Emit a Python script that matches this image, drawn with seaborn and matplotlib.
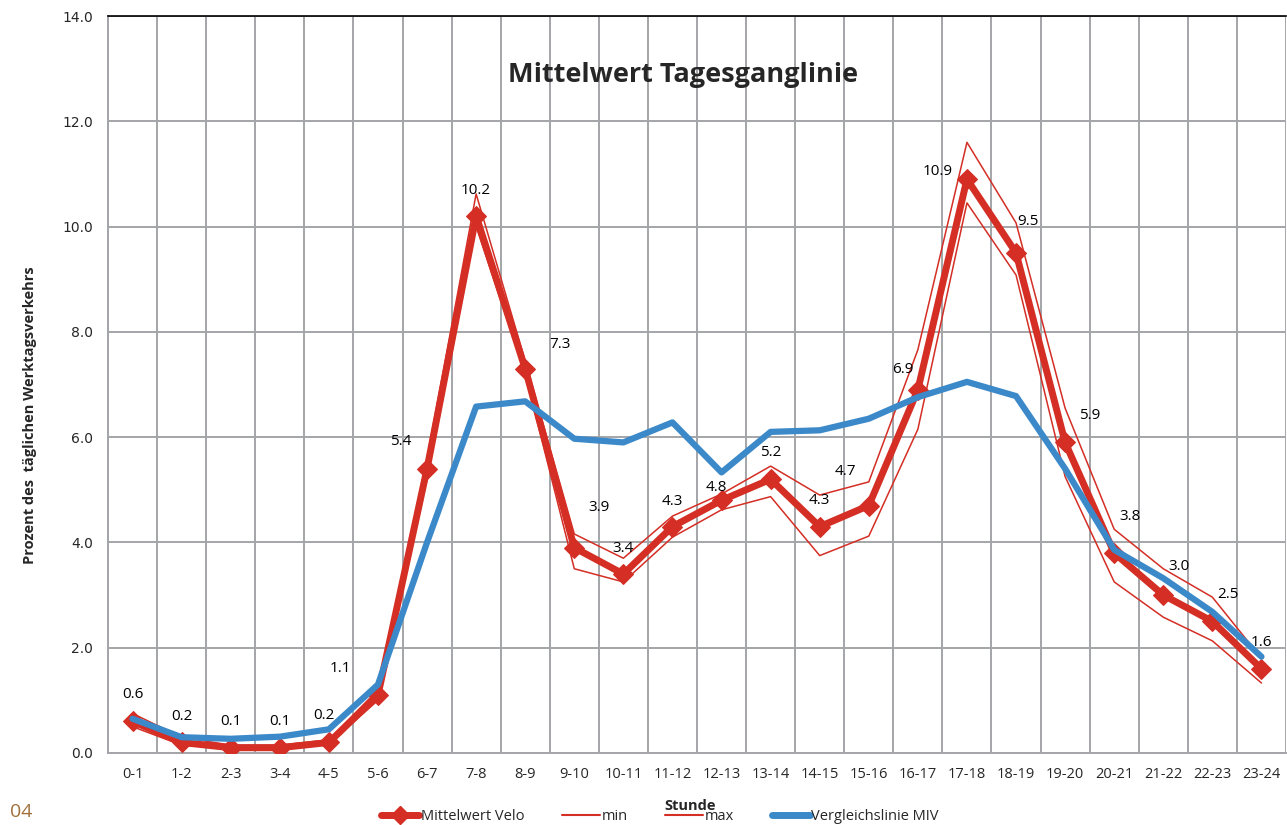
import numpy as np
import pandas as pd
import matplotlib
matplotlib.use("Agg")
import matplotlib.pyplot as plt
import seaborn as sns
from matplotlib.lines import Line2D

hours = ["0-1", "1-2", "2-3", "3-4", "4-5", "5-6", "6-7", "7-8", "8-9", "9-10",
         "10-11", "11-12", "12-13", "13-14", "14-15", "15-16", "16-17", "17-18",
         "18-19", "19-20", "20-21", "21-22", "22-23", "23-24"]
mean_velo = [0.6, 0.2, 0.1, 0.1, 0.2, 1.1, 5.4, 10.2, 7.3, 3.9, 3.4, 4.3, 4.8, 5.2,
             4.3, 4.7, 6.9, 10.9, 9.5, 5.9, 3.8, 3.0, 2.5, 1.6]
min_velo = [0.5, 0.15, 0.08, 0.08, 0.17, 1.0, 5.2, 10.0, 7.2, 3.5, 3.25, 4.1, 4.62, 4.87,
            3.75, 4.12, 6.15, 10.45, 9.08, 5.25, 3.25, 2.58, 2.13, 1.33]
max_velo = [0.75, 0.3, 0.15, 0.15, 0.25, 1.2, 5.6, 10.62, 7.45, 4.16, 3.7, 4.5, 4.92, 5.45,
            4.9, 5.15, 7.66, 11.6, 10.07, 6.55, 4.25, 3.5, 2.96, 1.8]
miv = [0.65, 0.3, 0.27, 0.31, 0.45, 1.3, 4.0, 6.58, 6.68, 5.97, 5.9, 6.28, 5.33, 6.1,
       6.13, 6.35, 6.76, 7.05, 6.78, 5.4, 3.86, 3.32, 2.68, 1.83]

# label offsets in pixels (dx, dy) relative to the data point
label_dx = [0, 0, 0, 0, -5, -38, -26, 0, 35, 25, 0, 0, -5, 0, 0, -23, -15, -29, 12, 25, 16, 16, 16, 0]
label_dy = [27, 26, 26, 26, 27, 27, 27, 26, 24, 40, 26, 25, 13, 27, 26, 34, 20, 8, 31, 27, 36, 29, 27, 26]

RED = "#D42E25"
BLUE = "#3B89C9"
GRID = "#A3A5A8"

sns.set_theme(style="white")
plt.rcParams['font.family'] = ['Open Sans', 'DejaVu Sans']

fig = plt.figure(figsize=(12.87, 8.25), dpi=100)
ax = fig.add_axes([108/1287, 1-753/825, 1178/1287, (753-16)/825])

x = np.arange(len(hours))
df = pd.DataFrame({"x": x, "mean": mean_velo, "min": min_velo, "max": max_velo, "miv": miv})

sns.lineplot(data=df, x="x", y="min", ax=ax, color=RED, lw=1.1, zorder=3)
sns.lineplot(data=df, x="x", y="max", ax=ax, color=RED, lw=1.1, zorder=3)
sns.lineplot(data=df, x="x", y="mean", ax=ax, color=RED, lw=5.0, marker="D",
             markersize=10, markeredgecolor=RED, markerfacecolor=RED, zorder=4)
sns.lineplot(data=df, x="x", y="miv", ax=ax, color=BLUE, lw=4.5, zorder=5)

for i, v in enumerate(mean_velo):
    ax.annotate(f"{v:.1f}", (x[i], v), xytext=(label_dx[i], label_dy[i]),
                textcoords="offset pixels", ha="center", va="center",
                fontsize=11, color="black", zorder=6)

ax.set_xlim(-0.5, len(hours) - 0.5)
ax.set_ylim(0, 14)
ax.set_yticks(np.arange(0, 14.1, 2))
ax.set_yticklabels([f"{t:.1f}" for t in np.arange(0, 14.1, 2)], family="DejaVu Sans", fontsize=10)
ax.set_xticks(x)
ax.set_xticklabels(hours, fontsize=10.5)
ax.set_xticks(np.arange(-0.5, len(hours), 1), minor=True)
ax.tick_params(axis="x", which="major", length=0, pad=10)
ax.tick_params(axis="x", which="minor", length=5, color=GRID, width=1.2, direction="out")
ax.tick_params(axis="y", which="major", length=5, color=GRID, width=1.2, direction="out", pad=6)
ax.grid(False)
ax.grid(axis="x", which="minor", color=GRID, lw=1.4)
ax.grid(axis="y", which="major", color=GRID, lw=1.4)
ax.set_axisbelow(True)

for s in ["left", "bottom"]:
    ax.spines[s].set_color(GRID)
    ax.spines[s].set_linewidth(1.4)
ax.spines["top"].set_color("black")
ax.spines["top"].set_linewidth(1.2)
ax.spines["right"].set_visible(False)

ax.set_xlabel("Stunde", fontsize=10.5, fontweight="bold", labelpad=2)
ax.xaxis.set_label_coords((690-108)/1178, -(799-753)/737)
ax.set_ylabel("Prozent des  täglichen Werktagsverkehrs", fontsize=10.5, fontweight="bold")
ax.yaxis.set_label_coords(-(108-37)/1178, (753-415)/737)

ax.text((683-108)/1178, (753-75)/737, "Mittelwert Tagesganglinie", transform=ax.transAxes,
        ha="center", va="center", fontsize=19.5, fontweight="bold")

handles = [
    Line2D([], [], color=RED, lw=5, marker="D", markersize=9),
    Line2D([], [], color=RED, lw=1.5),
    Line2D([], [], color=RED, lw=1.5),
    Line2D([], [], color=BLUE, lw=5),
]
fig.legend(handles, ["Mittelwert Velo", "min", "max", "Vergleichslinie MIV"],
           loc="center", bbox_to_anchor=(660/1287, 1-817/825), ncol=4, frameon=False,
           fontsize=10.5, handlelength=2.6, handletextpad=0.1, columnspacing=2.6,
           borderpad=0.1)

fig.text(10/1287, 1-812/825, "04", fontsize=14, color="#A0703A", va="center", ha="left")

fig.savefig("out.png", dpi=100)
